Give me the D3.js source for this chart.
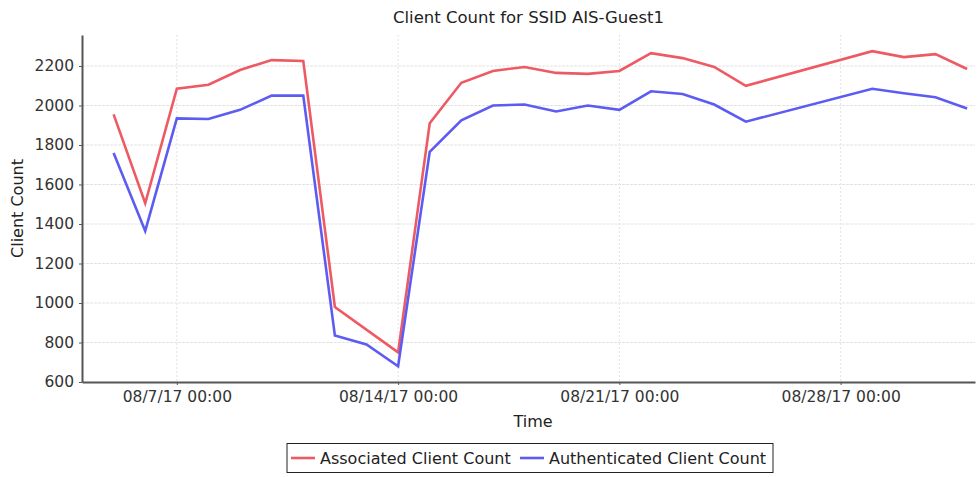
<!DOCTYPE html>
<html>
<head>
<meta charset="utf-8">
<script src="https://cdn.jsdelivr.net/npm/d3@7"></script>
<style>
  body { margin: 0; background: #fff; }
  svg { display: block; font-family: "DejaVu Sans", Verdana, sans-serif; }
</style>
</head>
<body>
<svg id="chart" width="977" height="477"></svg>
<script>
// readings, one value per day (null = no point)
var days = ["2017-08-05", "2017-08-06", "2017-08-07", "2017-08-08", "2017-08-09", "2017-08-10",
    "2017-08-11", "2017-08-12", "2017-08-13", "2017-08-14", "2017-08-15", "2017-08-16",
    "2017-08-17", "2017-08-18", "2017-08-19", "2017-08-20", "2017-08-21", "2017-08-22",
    "2017-08-23", "2017-08-24", "2017-08-25", "2017-08-29", "2017-08-30", "2017-08-31",
    "2017-09-01"];
var associated = [1955, 1505, 2085, 2105, 2180, 2230, 2225, 980, null, 750, 1910, 2115,
    2175, 2195, 2165, 2160, 2175, 2265, 2240, 2195, 2100, 2275, 2245, 2260, 2185];
var authenticated = [1760, 1365, 1935, 1932, 1978, 2050, 2050, 835, 790, 680, 1765, 1925,
    2000, 2005, 1970, 2000, 1978, 2072, 2058, 2005, 1918, 2085, 2062, 2042, 1985];
var seriesNames = ["Associated Client Count", "Authenticated Client Count"];
var seriesColors = ["#ee5a63", "#5c5cf2"];
var xTicks = ["2017-08-07", "2017-08-14", "2017-08-21", "2017-08-28"];
var yTicks = [600, 800, 1000, 1200, 1400, 1600, 1800, 2000, 2200];

function draw() {
    var parse = d3.timeParse("%Y-%m-%d");
    var svg = d3.select("#chart");

    var plotL = 82, plotR = 975, plotT = 35, plotB = 382;

    var x = d3.scaleTime()
        .domain([parse("2017-08-04"), new Date(2017, 8, 1, 6)])
        .range([plotL, plotR]);
    var y = d3.scaleLinear()
        .domain([600, 2357])
        .range([plotB, plotT]);

    // grid
    var grid = svg.append("g");
    grid.selectAll(".hg").data(yTicks.slice(1)).enter().append("line")
        .attr("x1", plotL).attr("x2", plotR)
        .attr("y1", function(d) { return y(d); }).attr("y2", function(d) { return y(d); })
        .attr("stroke", "#e2e2e2").attr("stroke-width", 1).attr("stroke-dasharray", "3,1");
    grid.selectAll(".vg").data(xTicks).enter().append("line")
        .attr("x1", function(d) { return x(parse(d)); }).attr("x2", function(d) { return x(parse(d)); })
        .attr("y1", plotT).attr("y2", plotB)
        .attr("stroke", "#e2e2e2").attr("stroke-width", 1).attr("stroke-dasharray", "2,2");

    // lines
    var line = d3.line()
        .x(function(d) { return x(d.date); })
        .y(function(d) { return y(d.value); });

    [associated, authenticated].forEach(function(vals, i) {
        var pts = days.map(function(d, j) { return { date: parse(d), value: vals[j] }; })
            .filter(function(p) { return p.value != null; });
        svg.append("path")
            .datum(pts)
            .attr("d", line)
            .attr("fill", "none")
            .attr("stroke", seriesColors[i])
            .attr("stroke-width", 2.6);
    });

    // axes
    var fmt = function(d) {
        return d3.timeFormat("%m/")(d) + (+d3.timeFormat("%d")(d)) + d3.timeFormat("/%y %H:%M")(d);
    };
    var xAxis = svg.append("g")
        .attr("transform", "translate(0," + plotB + ")")
        .call(d3.axisBottom(x)
            .tickValues(xTicks.map(parse))
            .tickFormat(fmt)
            .tickSizeInner(3).tickSizeOuter(0).tickPadding(6));
    var yAxis = svg.append("g")
        .attr("transform", "translate(" + plotL + ",0)")
        .call(d3.axisLeft(y)
            .tickValues(yTicks)
            .tickFormat(d3.format("d"))
            .tickSizeInner(3).tickSizeOuter(0).tickPadding(5));

    [xAxis, yAxis].forEach(function(ax) {
        ax.select(".domain").attr("stroke", "#555").attr("stroke-width", 2);
        ax.selectAll(".tick line").attr("stroke", "#555");
        ax.selectAll(".tick text")
            .attr("fill", "#333")
            .style("font-size", "15.5px")
            .style("font-family", "DejaVu Sans, sans-serif");
    });

    // title + axis labels
    svg.append("text")
        .attr("x", (plotL + plotR) / 2).attr("y", 23)
        .attr("text-anchor", "middle")
        .attr("fill", "#222")
        .style("font-size", "16.5px")
        .text("Client Count for SSID AIS-Guest1");
    svg.append("text")
        .attr("x", 533).attr("y", 427)
        .attr("text-anchor", "middle")
        .attr("fill", "#222")
        .style("font-size", "16px")
        .text("Time");
    svg.append("text")
        .attr("transform", "translate(23," + ((plotT + plotB) / 2) + ") rotate(-90)")
        .attr("text-anchor", "middle")
        .attr("fill", "#222")
        .style("font-size", "16px")
        .text("Client Count");

    // legend
    var legend = svg.append("g");
    legend.append("rect")
        .attr("x", 287).attr("y", 443.5)
        .attr("width", 486).attr("height", 29)
        .attr("fill", "#fff").attr("stroke", "#222").attr("stroke-width", 1);
    var legendX = [291, 520];
    seriesNames.forEach(function(name, i) {
        legend.append("line")
            .attr("x1", legendX[i]).attr("x2", legendX[i] + 24)
            .attr("y1", 458).attr("y2", 458)
            .attr("stroke", seriesColors[i]).attr("stroke-width", 2.6);
        legend.append("text")
            .attr("x", legendX[i] + 29).attr("y", 464)
            .attr("fill", "#222")
            .style("font-size", "16px")
            .text(name);
    });
} //draw

draw();
</script>
</body>
</html>
